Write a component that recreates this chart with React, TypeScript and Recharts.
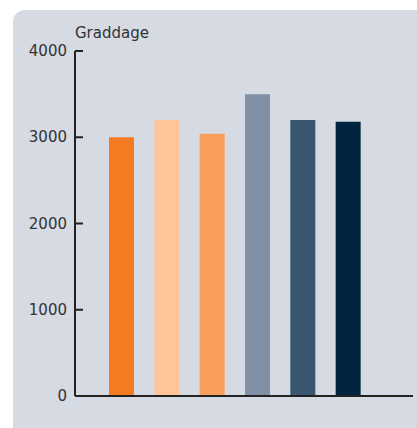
import { Bar, BarChart, Cell, Label, XAxis, YAxis } from "recharts";

// graddage per kategori
const CATEGORIES = ["A", "B", "C", "D", "E", "F"];
const VALUES = [3000, 3200, 3040, 3500, 3200, 3180];
const Y_TICKS = [0, 1000, 2000, 3000, 4000];
const BAR_COLORS = ["#f57a22", "#fec598", "#f99f5e", "#7f8fa4", "#3b5670", "#02253f"];

const FONT = "'DejaVu Sans', sans-serif";
const AXIS = "#222222";

const data = CATEGORIES.map((name, i) => ({ name, value: VALUES[i] }));

function YTick(props: any) {
  const { x, y, payload } = props;
  return (
    <g>
      <line x1={x + 8} x2={x + 16} y1={y} y2={y} stroke={AXIS} strokeWidth={2} />
      <text
        x={x}
        y={y}
        dy={5}
        textAnchor="end"
        fontSize={15}
        fontFamily={FONT}
        fill="#333"
      >
        {payload.value}
      </text>
    </g>
  );
}

function AxisTitle(props: any) {
  const { viewBox } = props;
  return (
    <text
      x={viewBox.x + viewBox.width}
      y={viewBox.y - 13}
      fontSize={15}
      fontFamily={FONT}
      fill="#333"
    >
      Graddage
    </text>
  );
}

export default function App() {
  return (
    <div style={{ width: 417, height: 428, overflow: "hidden", background: "#fff" }}>
      <style>{"body{margin:0;overflow:hidden}"}</style>
      <div
        style={{
          marginLeft: 13,
          paddingTop: 0,
          position: "relative",
          top: 10,
          width: 430,
          height: 440,
          borderRadius: 12,
          background: "#d6dae3",
        }}
      >
        <BarChart
          width={404}
          height={418}
          data={data}
          margin={{ top: 41, right: 4, bottom: 30, left: 0 }}
          barSize={25}
        >
          <XAxis
            dataKey="name"
            height={2}
            tick={false}
            tickLine={false}
            axisLine={{ stroke: AXIS, strokeWidth: 2 }}
            padding={{ left: 24, right: 42 }}
          />
          <YAxis
            width={62}
            domain={[0, 4000]}
            ticks={Y_TICKS}
            tickSize={0}
            tickMargin={8}
            tick={<YTick />}
            axisLine={{ stroke: AXIS, strokeWidth: 2 }}
          >
            <Label content={<AxisTitle />} />
          </YAxis>
          <Bar dataKey="value" isAnimationActive={false}>
            {data.map((_, i) => (
              <Cell key={i} fill={BAR_COLORS[i]} />
            ))}
          </Bar>
        </BarChart>
      </div>
    </div>
  );
}
